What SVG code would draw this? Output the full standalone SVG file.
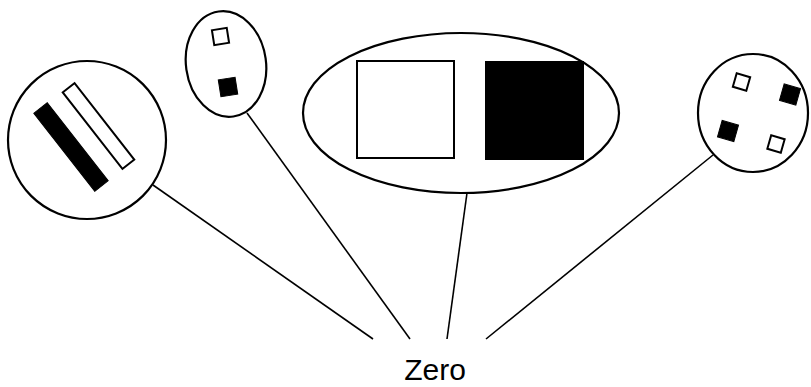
<svg xmlns="http://www.w3.org/2000/svg" width="811" height="387" viewBox="0 0 811 387">
<style>
.outline{fill:#fff;stroke:#000;stroke-width:2.2}
.w{fill:#fff;stroke:#000;stroke-width:2}
.b{fill:#000;stroke:#000;stroke-width:1}
.conn line{stroke:#000;stroke-width:1.6}
text{font-family:"Liberation Sans",Arial,sans-serif;font-size:30px;fill:#000}
</style>
<rect width="811" height="387" fill="#fff"/>
<g class="conn" id="connectors">
<line x1="153" y1="185" x2="373" y2="339"/>
<line x1="247" y1="113" x2="410" y2="339"/>
<line x1="467" y1="193" x2="447" y2="339"/>
<line x1="713" y1="155" x2="486" y2="339"/>
</g>
<g id="node-bars">
<circle class="outline" cx="87" cy="140" r="79"/>
<rect class="b" x="-8.5" y="-49.5" width="17" height="99" transform="translate(71,147) rotate(-38)"/>
<rect class="w" x="-7.5" y="-48.5" width="15" height="97" transform="translate(98.5,126) rotate(-38)"/>
</g>
<g id="node-small">
<ellipse class="outline" cx="226" cy="64" rx="40" ry="53" transform="rotate(-8 226 64)"/>
<rect class="w" x="-7.5" y="-7.5" width="15" height="15" transform="translate(220.5,36.5) rotate(-9)"/>
<rect class="b" x="-8.5" y="-8.5" width="17" height="17" transform="translate(228,87) rotate(-9)"/>
</g>
<g id="node-large">
<ellipse class="outline" cx="461" cy="113" rx="158" ry="80"/>
<rect class="w" x="357" y="61" width="97" height="97"/>
<rect class="b" x="485.5" y="61.5" width="98" height="98"/>
</g>
<g id="node-four">
<ellipse class="outline" cx="753" cy="113" rx="55" ry="59"/>
<rect class="w" x="-7" y="-7" width="14" height="14" transform="translate(741.5,82) rotate(16)"/>
<rect class="b" x="-8.5" y="-8.5" width="17" height="17" transform="translate(790,94.5) rotate(16)"/>
<rect class="b" x="-8.5" y="-8.5" width="17" height="17" transform="translate(728,131) rotate(16)"/>
<rect class="w" x="-7" y="-7" width="14" height="14" transform="translate(776,144) rotate(16)"/>
</g>
<g id="label">
<text x="435" y="380" text-anchor="middle">Zero</text>
</g>
</svg>
